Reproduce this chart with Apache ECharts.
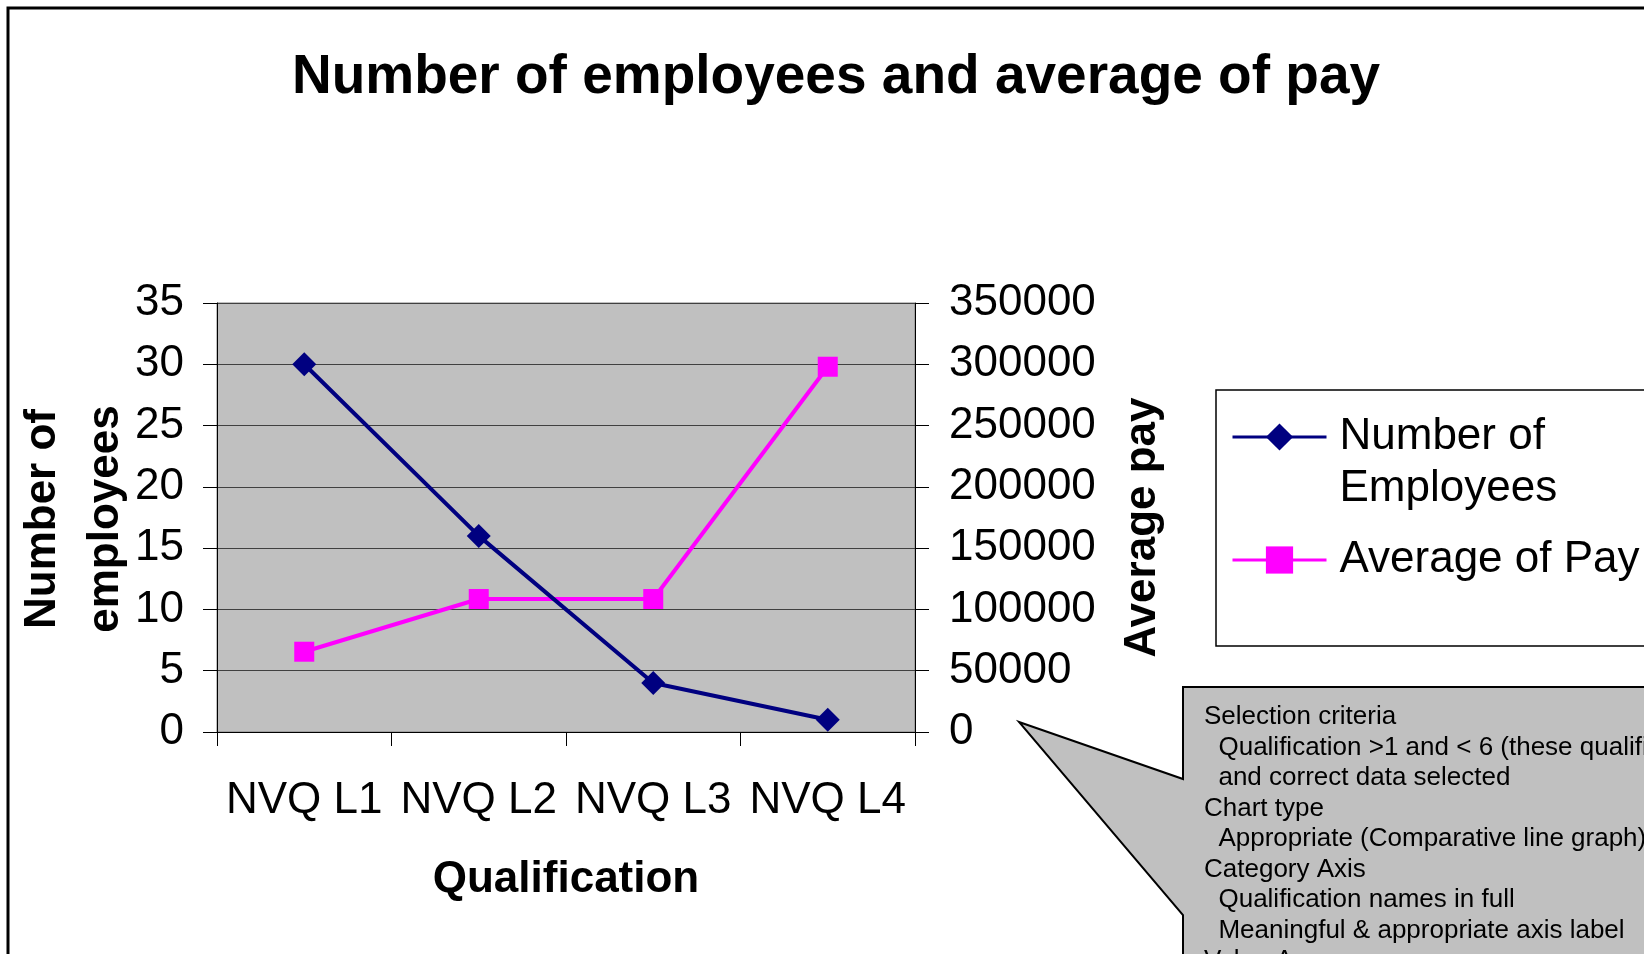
<!DOCTYPE html>
<html>
<head>
<meta charset="utf-8">
<title>Number of employees and average of pay</title>
<script src="https://cdn.jsdelivr.net/npm/echarts@6/dist/echarts.min.js"></script>
<style>
  html, body { margin: 0; padding: 0; background: #fff; }
  #container { width: 1644px; height: 954px; }
</style>
</head>
<body>
<div id="container"></div>
<script>
(function() {
    var categories = ['NVQ L1', 'NVQ L2', 'NVQ L3', 'NVQ L4'];
    var employees = [30, 16, 4, 1];
    var averagePay = [65500, 108500, 108500, 298000];
    var noteLines = [
        'Selection criteria',
        '  Qualification >1 and < 6 (these qualifications',
        '  and correct data selected',
        'Chart type',
        '  Appropriate (Comparative line graph)',
        'Category Axis',
        '  Qualification names in full',
        '  Meaningful & appropriate axis label',
        'Value Axes'
    ];

    var font = '"Liberation Sans", Arial, sans-serif';
    var dom = document.getElementById('container');
    var myChart = echarts.init(dom, null, { renderer: 'canvas' });

    var option = {
        backgroundColor: '#ffffff',
        animation: false,
        textStyle: { fontFamily: font },
        title: {
            text: 'Number of employees and average of pay',
            left: 831,
            textAlign: 'center',
            top: 45,
            textStyle: { fontFamily: font, fontSize: 55, fontWeight: 'bold', color: '#000' }
        },
        grid: {
            left: 217,
            top: 303,
            right: 729,
            bottom: 222,
            show: true,
            backgroundColor: '#c0c0c0',
            borderColor: '#808080',
            borderWidth: 1
        },
        legend: {
            orient: 'vertical',
            left: 1226,
            top: 354,
            itemWidth: 94,
            itemHeight: 34,
            itemGap: 19,
            z: 10,
            data: ['Number of Employees', 'Average of Pay'],
            lineStyle: { width: 3 },
            formatter: function(name) {
                if (name === 'Number of Employees') {
                    return '\u00a0\nNumber of\nEmployees';
                }
                return name;
            },
            textStyle: { fontFamily: font, fontSize: 44, lineHeight: 52, color: '#000', padding: [0, 0, 0, 8] }
        },
        xAxis: {
            type: 'category',
            data: categories,
            boundaryGap: true,
            name: 'Qualification',
            nameLocation: 'middle',
            nameGap: 126,
            nameTextStyle: { fontFamily: font, fontSize: 44, fontWeight: 'bold', color: '#000' },
            axisLine: { lineStyle: { color: '#000', width: 1 } },
            axisTick: { show: true, interval: 0, alignWithLabel: false, length: 14, lineStyle: { color: '#000' } },
            axisLabel: { interval: 0, fontFamily: font, fontSize: 44, color: '#000', margin: 47 },
            splitLine: { show: false }
        },
        yAxis: [{
            type: 'value',
            min: 0,
            max: 35,
            interval: 5,
            position: 'left',
            axisLine: { show: true, lineStyle: { color: '#000', width: 1 } },
            axisTick: { show: true, length: 14, lineStyle: { color: '#000' } },
            axisLabel: { fontFamily: font, fontSize: 44, color: '#000', margin: 33 },
            splitLine: { show: true, lineStyle: { color: '#404040', width: 1 } }
        }, {
            type: 'value',
            min: 0,
            max: 350000,
            interval: 50000,
            position: 'right',
            name: 'Average pay',
            nameLocation: 'middle',
            nameRotate: 90,
            nameGap: 206,
            nameTextStyle: { fontFamily: font, fontSize: 44, fontWeight: 'bold', color: '#000', padding: [0, 20, 0, 0] },
            axisLine: { show: true, lineStyle: { color: '#000', width: 1 } },
            axisTick: { show: true, length: 14, lineStyle: { color: '#000' } },
            axisLabel: {
                fontFamily: font, fontSize: 44, color: '#000', margin: 34,
                formatter: function(v) { return String(v); }
            },
            splitLine: { show: false }
        }],
        series: [{
            name: 'Number of Employees',
            type: 'line',
            yAxisIndex: 0,
            data: employees,
            symbol: 'diamond',
            symbolSize: 24,
            showSymbol: true,
            lineStyle: { color: '#000080', width: 4 },
            itemStyle: { color: '#000080' },
            z: 3
        }, {
            name: 'Average of Pay',
            type: 'line',
            yAxisIndex: 1,
            data: averagePay,
            symbol: 'rect',
            symbolSize: 20,
            showSymbol: true,
            lineStyle: { color: '#ff00ff', width: 4 },
            itemStyle: { color: '#ff00ff' },
            z: 2
        }],
        graphic: [{
            // outer frame of the sheet
            type: 'rect',
            z: -10,
            shape: { x: 8, y: 8, width: 2000, height: 2000 },
            style: { fill: 'none', stroke: '#000', lineWidth: 3 }
        }, {
            // left value axis title (two lines, overlaps the tick labels like the original)
            type: 'text',
            z: 5,
            x: 74,
            y: 519,
            rotation: Math.PI / 2,
            style: {
                text: 'Number of\nemployees',
                font: 'bold 44px ' + font,
                lineHeight: 63,
                align: 'center',
                verticalAlign: 'middle',
                fill: '#000'
            }
        }, {
            // legend box
            type: 'rect',
            z: 1,
            shape: { x: 1216, y: 390, width: 600, height: 256 },
            style: { fill: '#fff', stroke: '#000', lineWidth: 1.5 }
        }, {
            // callout
            type: 'polygon',
            z: 1,
            shape: {
                points: [[1019, 722], [1183, 779], [1183, 687], [1800, 687], [1800, 1100], [1183, 1100], [1183, 915]]
            },
            style: { fill: '#c0c0c0', stroke: '#000', lineWidth: 2 }
        }, {
            type: 'text',
            z: 2,
            x: 1204,
            y: 702,
            style: {
                text: noteLines.join('\n'),
                font: '26px ' + font,
                lineHeight: 30.5,
                fill: '#000'
            }
        }]
    };

    myChart.setOption(option);
}).call(this);
</script>
</body>
</html>
